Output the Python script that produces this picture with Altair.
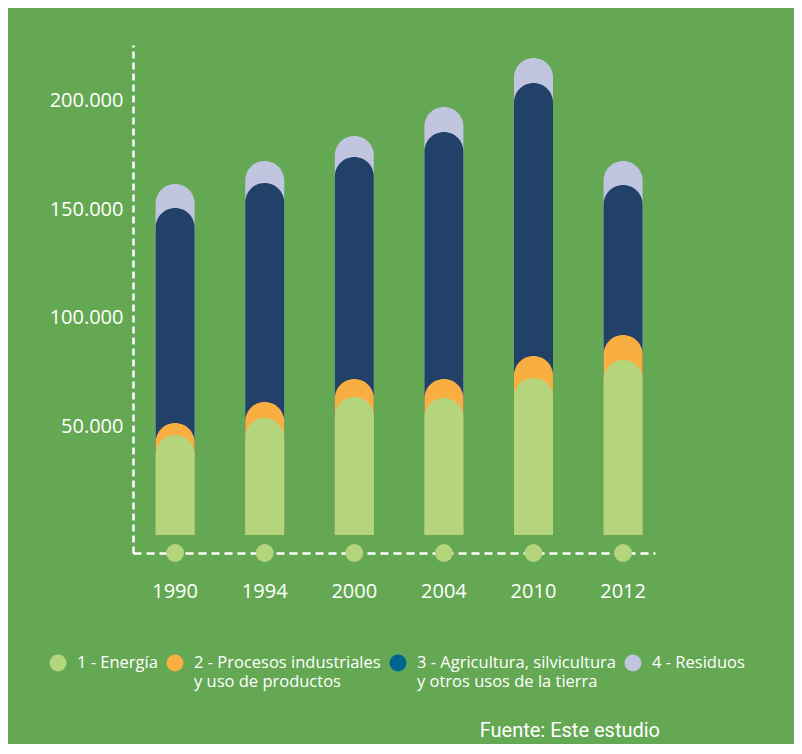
import altair as alt
import pandas as pd

years = ["1990", "1994", "2000", "2004", "2010", "2012"]
energia = [46100, 53900, 63600, 63100, 72400, 80600]
procesos = [5500, 7400, 8300, 8800, 10100, 11600]
agricultura = [99100, 100900, 102300, 113800, 125800, 69100]
residuos = [11100, 10200, 9700, 11500, 11500, 11100]

legend_names = [
    "1 - Energía|",
    "2 - Procesos industriales|y uso de productos",
    "3 - Agricultura, silvicultura|y otros usos de la tierra",
    "4 - Residuos|",
]
legend_colors = ["#b5d57c", "#f9ae42", "#00668f", "#c1c5e0"]
bar_colors = ["#b5d57c", "#f9ae42", "#214169", "#c1c5e0"]
y_ticks = [50000, 100000, 150000, 200000]

df = pd.DataFrame({"year": years})
df["c1"] = energia
df["c2"] = [a + b for a, b in zip(energia, procesos)]
df["c3"] = [a + b for a, b in zip(df["c2"], agricultura)]
df["c4"] = [a + b for a, b in zip(df["c3"], residuos)]

W, H = 522, 508
BG = "#65a853"
FONT = "Open Sans"

xscale = alt.Scale(domain=years, paddingInner=0.5536, paddingOuter=0.19, align=0.65)
yscale = alt.Scale(domain=[-8300, 225800], nice=False, zero=False)

xaxis = alt.Axis(
    title=None, ticks=False, labelAngle=0, labelPadding=28,
    labelColor="white", labelFontSize=20, labelFont=FONT,
    domainColor="white", domainWidth=2.5, domainDash=[8, 5],
)
yaxis = alt.Axis(
    title=None, ticks=False, grid=False, values=y_ticks,
    labelExpr="replace(format(datum.value, ','), ',', '.')",
    labelPadding=10, labelColor="white", labelFontSize=20, labelFont=FONT,
    domainColor="white", domainWidth=2.5, domainDash=[7, 4],
)

base = alt.Chart(df)


def bar_layer(field, color):
    return base.mark_bar(
        width=39, cornerRadiusTopLeft=19.5, cornerRadiusTopRight=19.5, color=color
    ).encode(
        x=alt.X("year:N", scale=xscale, axis=xaxis),
        y=alt.Y(f"{field}:Q", scale=yscale, axis=yaxis),
        y2=alt.datum(0),
    )


layers = [
    bar_layer("c4", bar_colors[3]),
    bar_layer("c3", bar_colors[2]),
    bar_layer("c2", bar_colors[1]),
    bar_layer("c1", bar_colors[0]),
]

dots = base.mark_circle(size=320, opacity=1, color="#b5d57c").encode(
    x=alt.X("year:N", scale=xscale, axis=xaxis),
    y=alt.value(H),
)

leg_df = pd.DataFrame({"name": legend_names})
legend_layer = alt.Chart(leg_df).mark_point(filled=True, opacity=0).encode(
    color=alt.Color(
        "name:N",
        scale=alt.Scale(domain=legend_names, range=legend_colors),
        legend=alt.Legend(
            title=None, orient="none", legendX=-84, legendY=609,
            direction="horizontal", columns=4, symbolType="circle",
            symbolSize=290, symbolOpacity=1, symbolStrokeWidth=0,
            labelExpr="split(datum.label, '|')",
            labelColor="white", labelFontSize=16.5, labelFont=FONT,
            labelLimit=400, labelOffset=10, columnPadding=8,
            labelBaseline="middle",
        ),
    )
)

chart = alt.layer(*layers, dots, legend_layer).properties(
    width=W, height=H,
    title=alt.TitleParams(
        "Fuente: Este estudio", orient="bottom", anchor="end", frame="group",
        color="white", fontSize=20, font="Roboto",
        fontWeight="normal", offset=31, dx=5,
    ),
    autosize=alt.AutoSizeParams(type="none"),
    padding={"left": 125, "top": 37, "right": 139, "bottom": 191},
).configure(background=BG).configure_view(stroke=None)

chart.save("out.html", embed_options={"renderer": "svg", "actions": False})
